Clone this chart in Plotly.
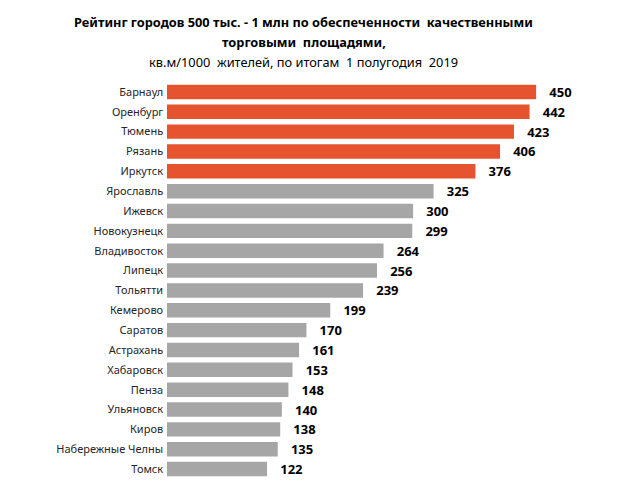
import plotly.graph_objects as go

cities = ["Барнаул", "Оренбург", "Тюмень", "Рязань", "Иркутск", "Ярославль",
          "Ижевск", "Новокузнецк", "Владивосток", "Липецк", "Тольятти", "Кемерово",
          "Саратов", "Астрахань", "Хабаровск", "Пенза", "Ульяновск", "Киров",
          "Набережные Челны", "Томск"]
values = [450, 442, 423, 406, 376, 325, 300, 299, 264, 256, 239, 199,
          170, 161, 153, 148, 140, 138, 135, 122]
top_n = 5

title_lines = ["<b>Рейтинг городов 500 тыс. - 1 млн по обеспеченности  качественными</b>",
               "<b>торговыми  площадями,</b>",
               "кв.м/1000  жителей, по итогам  1 полугодия  2019"]

orange = "#E5532F"
gray = "#A6A6A6"
colors = [orange if i < top_n else gray for i in range(len(cities))]

fig = go.Figure(go.Bar(
    x=values, y=cities, orientation="h",
    marker=dict(color=colors, line=dict(width=0)),
    text=values, texttemplate="   %{text}", textposition="outside",
    constraintext="none",
    textfont=dict(family="Noto Sans", size=13, color="#000000", weight="bold"),
    cliponaxis=False,
))

# title as three separate lines to get the spacing of the original
for i, line in enumerate(title_lines):
    fig.add_annotation(text=line, xref="paper", yref="paper",
                       x=0.297, y=1.151 - i * 0.0504, xanchor="center", yanchor="middle",
                       showarrow=False, font=dict(family="Noto Sans", size=12.8, color="#000000"))

# page body has an 8px margin, so the figure is 8px smaller than the window
fig.update_layout(
    width=620, height=489,
    margin=dict(l=159, r=0, t=74, b=18, autoexpand=False),
    paper_bgcolor="white", plot_bgcolor="white",
    bargap=0.27,
    showlegend=False,
    font=dict(family="Noto Sans", size=11, color="#000000"),
)
fig.update_xaxes(visible=False, range=[0, 562])
fig.update_yaxes(autorange="reversed", showline=False, showgrid=False,
                 ticks="", ticksuffix=" ", tickfont=dict(size=11, color="#262626"))

fig.write_html("out.html")
